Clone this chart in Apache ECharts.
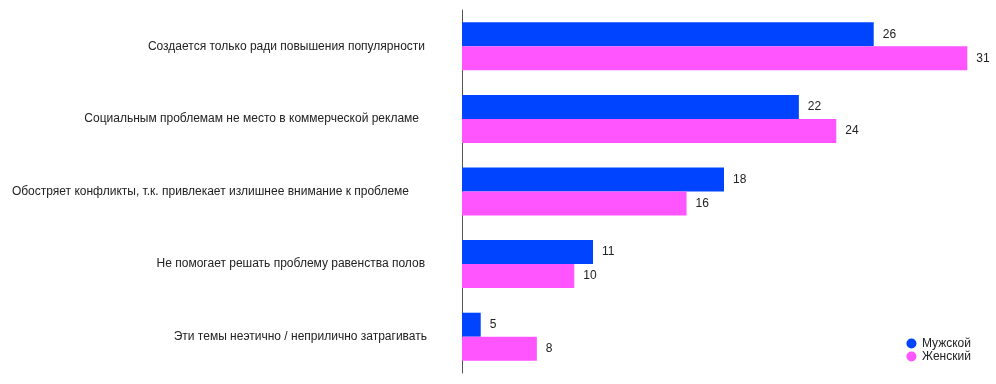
<!DOCTYPE html>
<html><head><meta charset="utf-8">
<script src="https://cdn.jsdelivr.net/npm/echarts@6/dist/echarts.min.js"></script>
<style>html,body{margin:0;padding:0;background:#fff}#c{width:996px;height:384px}</style>
</head><body><div id="c"></div>
<script>
const categories = [
  "Создается только ради повышения популярности",
  "Социальным проблемам не место в коммерческой рекламе",
  "Обостряет конфликты, т.к. привлекает излишнее внимание к проблеме",
  "Не помогает решать проблему равенства полов",
  "Эти темы неэтично / неприлично затрагивать"
];
const male = [26, 22, 18, 11, 5];
const female = [31, 24, 16, 10, 8];
const seriesNames = ["Мужской", "Женский"];

const chart = echarts.init(document.getElementById('c'));
const font = "Arial, 'Liberation Sans', sans-serif";
const labelPad = [2, 8, 18, 2, 0];
const rich = {};
labelPad.forEach((p, i) => { rich['p' + i] = {padding: [0, p, 0, 0], color: '#222', fontSize: 12, fontFamily: font}; });
const lbl = {show: true, position: 'right', distance: 9, color: '#222', fontSize: 12, fontFamily: font};
chart.setOption({
  animation: false,
  grid: {left: 462, right: 10, top: 10, bottom: 11, containLabel: false},
  legend: {
    orient: 'vertical', right: 20, bottom: 16, icon: 'circle', itemWidth: 11, itemHeight: 10, itemGap: 0,
    textStyle: {fontSize: 12, color: '#222', fontFamily: font, lineHeight: 13},
    data: seriesNames
  },
  xAxis: {type: 'value', min: 4, max: 32, show: false},
  yAxis: {
    type: 'category', inverse: true, data: categories,
    axisLine: {show: true, lineStyle: {color: '#555', width: 1}},
    axisTick: {show: false},
    axisLabel: {margin: 35, color: '#222', fontSize: 12, fontFamily: font, rich: rich,
      formatter: (v, i) => '{p' + i + '|' + v + '}'}
  },
  series: [
    {name: seriesNames[0], type: 'bar', data: male, barWidth: 24, barGap: '0%', itemStyle: {color: '#0044ff'}, label: lbl},
    {name: seriesNames[1], type: 'bar', data: female, barWidth: 24, barGap: '0%', itemStyle: {color: '#ff55ff'}, label: lbl}
  ]
});
</script></body></html>
